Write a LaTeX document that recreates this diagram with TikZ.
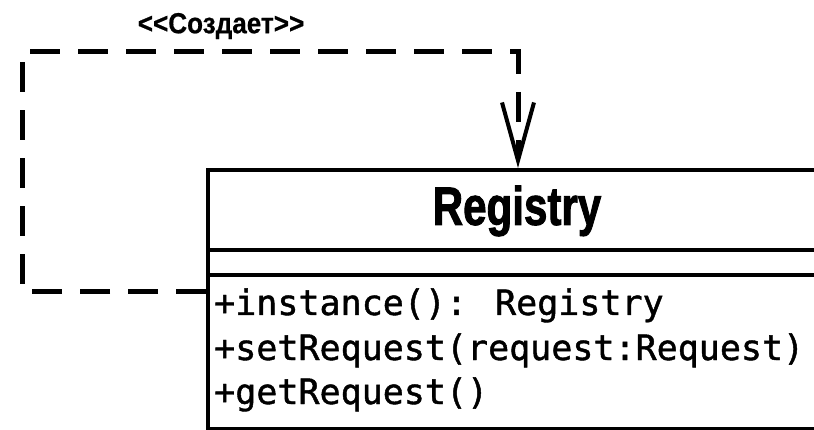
\documentclass[tikz,border=0pt]{standalone}
\usepackage{fontspec}
\newfontfamily\methodfont{DejaVu Sans Mono}[FakeBold=1.2]
\newfontfamily\labelfont{Liberation Sans}[UprightFont={* Bold}, FakeBold=0.6]
\newfontfamily\titlefont{Liberation Sans}[UprightFont={* Bold}, FakeBold=2]
\usetikzlibrary{arrows.meta,positioning}

\begin{document}
\begin{tikzpicture}[x=1pt, y=-1pt,
    classline/.style={line width=4pt},
    creates/.style={line width=5pt, dash pattern=on 30pt off 18pt,
        -{Straight Barb[length=58pt, width=32pt, line width=4pt]}},
    method/.style={font=\fontsize{35}{37}\methodfont, inner sep=0pt, anchor=base west}]
    \useasboundingbox (0,0) rectangle (814,430);
    \clip (0,0) rectangle (814,430);

    % class box, cut off at the right
    \node[draw, classline, anchor=north west, minimum width=630pt, minimum height=259pt, inner sep=0pt] (registry) at (206,168) {};
    \draw[classline] (206,250) -- (830,250);
    \draw[classline] (206,275) -- (830,275);

    \node[font=\fontsize{54}{56}\titlefont, xscale=0.78] (name) at (517,211) {Registry};

    \node[method] (m1) at (214,315) {+instance(): Registry};
    \node[method] (m2) at (214,360) {+setRequest(request:Request)};
    \node[method] (m3) at (214,404) {+getRequest()};

    % <<Создает>> dependency
    \coordinate (src) at (registry.west |- 0,292);
    \coordinate (tgt) at ([xshift=312pt]registry.north west);
    \draw[creates] (src) -| (22,52) -| (tgt);
    \node[font=\fontsize{29}{30}\labelfont, xscale=0.9] (stereo) at (221,26) {<<Создает>>};
\end{tikzpicture}
\end{document}
